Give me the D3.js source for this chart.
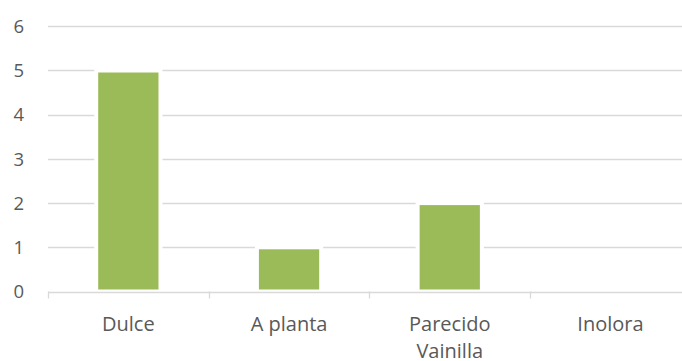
<!DOCTYPE html>
<html><head><meta charset="utf-8">
<script src="https://cdn.jsdelivr.net/npm/d3@7"></script>
<style>body{margin:0;background:#fff;} svg{display:block;}</style>
</head><body>
<script>
const categories = ["Dulce", "A planta", "Parecido Vainilla", "Inolora"];
const values = [5, 1, 2, 0];
const yTicks = [0, 1, 2, 3, 4, 5, 6];

const W = 682, H = 361;
const plotLeft = 48, bandW = 160.7, plotTop = 26.3, plotBottom = 291.5;
const svg = d3.select("body").append("svg").attr("width", W).attr("height", H);

const x = d3.scaleBand().domain(categories).range([plotLeft, plotLeft + bandW * categories.length]).padding(0);
const y = d3.scaleLinear().domain([0, 6]).range([plotBottom, plotTop]);
const font = "'Open Sans', sans-serif";

// gridlines
svg.append("g").selectAll("line").data(yTicks.filter(d => d > 0)).join("line")
  .attr("x1", plotLeft).attr("x2", W)
  .attr("y1", d => Math.round(y(d)) + 0.5).attr("y2", d => Math.round(y(d)) + 0.5)
  .attr("stroke", "#d9d9d9").attr("stroke-width", 1.3);

// y labels
svg.append("g").selectAll("text").data(yTicks).join("text")
  .attr("x", 24).attr("y", d => y(d)).attr("dy", "0.36em")
  .attr("text-anchor", "end").attr("font-family", font).attr("font-size", 18.5)
  .attr("fill", "#595959").text(d => d);

// bars
const bw = x.bandwidth() * 0.4;
svg.append("g").selectAll("rect").data(categories).join("rect")
  .attr("x", d => x(d) + (x.bandwidth() - bw) / 2)
  .attr("width", bw)
  .attr("y", (d, i) => y(values[i]))
  .attr("height", (d, i) => plotBottom - y(values[i]))
  .attr("fill", "#9bbb59")
  .attr("stroke", (d, i) => values[i] > 0 ? "#fff" : "none").attr("stroke-width", 4);

// x axis line and ticks
svg.append("line").attr("x1", plotLeft).attr("x2", W)
  .attr("y1", Math.round(plotBottom) + 0.5).attr("y2", Math.round(plotBottom) + 0.5)
  .attr("stroke", "#d9d9d9").attr("stroke-width", 1.3);
const bounds = d3.range(categories.length + 1).map(i => plotLeft + i * x.step());
svg.append("g").selectAll("line").data(bounds.filter(b => b < W)).join("line")
  .attr("x1", d => Math.round(d) + 0.5).attr("x2", d => Math.round(d) + 0.5)
  .attr("y1", plotBottom).attr("y2", plotBottom + 7)
  .attr("stroke", "#d9d9d9").attr("stroke-width", 1.3);

// x labels
const lab = svg.append("g").selectAll("text").data(categories).join("text")
  .attr("x", d => x(d) + x.bandwidth() / 2).attr("y", 331)
  .attr("text-anchor", "middle").attr("font-family", font).attr("font-size", 20)
  .attr("fill", "#595959");
lab.each(function(d) {
  const words = d === "Parecido Vainilla" ? ["Parecido", "Vainilla"] : [d];
  d3.select(this).selectAll("tspan").data(words).join("tspan")
    .attr("x", x(d) + x.bandwidth() / 2).attr("dy", (w, i) => i === 0 ? 0 : 26.5).text(w => w);
});
</script>
</body></html>
